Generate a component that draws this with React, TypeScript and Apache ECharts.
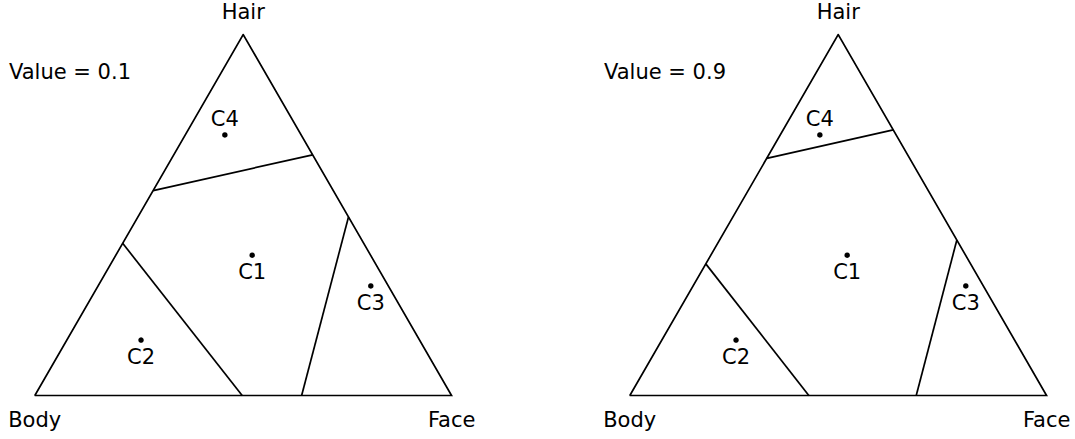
import React, { useEffect, useRef } from "react";
import * as echarts from "echarts";

// Panel parameter values
const panelValues = [0.1, 0.9];
// Vertex labels (ternary corners)
const vertexNames = ["Body", "Face", "Hair"];
// Cluster centres as (body, face, hair) fractions
const clusterNames = ["C1", "C2", "C3", "C4"];
const clusterBody = [0.284, 0.668, 0.042, 0.183];
const clusterFace = [0.327, 0.178, 0.654, 0.095];
const clusterHair = [0.389, 0.154, 0.304, 0.722];
// Boundary segments per panel: [[body, face, hair], [body, face, hair]]
const boundariesLow = [
  [[0.432, 0.0, 0.568], [0.0, 0.333, 0.667]], // C4 | C1
  [[0.578, 0.0, 0.422], [0.502, 0.498, 0.0]], // C2 | C1
  [[0.0, 0.505, 0.495], [0.36, 0.64, 0.0]], // C3 | C1
];
const boundariesHigh = [
  [[0.343, 0.0, 0.657], [0.0, 0.264, 0.736]],
  [[0.635, 0.0, 0.365], [0.57, 0.43, 0.0]],
  [[0.0, 0.569, 0.431], [0.313, 0.687, 0.0]],
];

const H = Math.sqrt(3) / 2;
const FONT = "DejaVu Sans";
const FS = 21;

function toXY(b: number, f: number, h: number): [number, number] {
  const s = b + f + h;
  const ff = f / s;
  const hh = h / s;
  return [ff + hh / 2, hh * H];
}

const labelBase = {
  show: true,
  position: "inside",
  formatter: "{b}",
  color: "#000",
  opacity: 1,
  fontSize: FS,
  fontFamily: FONT,
  textBorderWidth: 0,
  textBorderColor: "transparent",
  textShadowBlur: 0,
};

function panelSeries(idx: number, bounds: number[][][]) {
  const series: any[] = [];
  const corners = [toXY(1, 0, 0), toXY(0, 1, 0), toXY(0, 0, 1)];
  series.push({
    type: "line",
    xAxisIndex: idx,
    yAxisIndex: idx,
    data: [corners[0], corners[1], corners[2], corners[0]],
    symbol: "none",
    lineStyle: { color: "#000", width: 1.7, join: "miter" },
    silent: true,
  });
  bounds.forEach((seg) => {
    series.push({
      type: "line",
      xAxisIndex: idx,
      yAxisIndex: idx,
      data: seg.map((p) => toXY(p[0], p[1], p[2])),
      symbol: "none",
      lineStyle: { color: "#000", width: 1.7 },
      silent: true,
    });
  });
  series.push({
    type: "scatter",
    xAxisIndex: idx,
    yAxisIndex: idx,
    symbolSize: 5.5,
    itemStyle: { color: "#000", opacity: 1 },
    data: clusterNames.map((n, i) => ({
      name: n,
      value: toXY(clusterBody[i], clusterFace[i], clusterHair[i]),
      label: { offset: [0, n === "C4" ? -16 : 17] },
    })),
    label: labelBase,
  });
  series.push({
    type: "scatter",
    xAxisIndex: idx,
    yAxisIndex: idx,
    symbolSize: 0,
    itemStyle: { opacity: 1 },
    data: vertexNames.map((n, i) => ({
      name: n,
      value: corners[i],
      label: { offset: [0, n === "Hair" ? -22.5 : 24] },
    })),
    label: labelBase,
  });
  return series;
}

export default function App() {
  const ref = useRef<HTMLDivElement>(null);
  useEffect(() => {
    document.body.style.margin = "0";
    if (!ref.current) return;
    const chart = echarts.init(ref.current, null, { renderer: "svg" });
    const side = 417;
    const grids = [
      { left: 34.7, top: 395.7 - side * H, width: side, height: side * H },
      { left: 629.7, top: 395.7 - side * H, width: side, height: side * H },
    ];
    const axisBase = { type: "value", show: false, splitLine: { show: false } };
    chart.setOption({
      animation: false,
      backgroundColor: "#fff",
      grid: grids,
      xAxis: [0, 1].map((i) => ({ ...axisBase, gridIndex: i, min: 0, max: 1 })),
      yAxis: [0, 1].map((i) => ({ ...axisBase, gridIndex: i, min: 0, max: H })),
      graphic: panelValues.map((v, i) => ({
        type: "text",
        x: i === 0 ? 9 : 604,
        y: 72,
        style: {
          text: `Value = ${v}`,
          fill: "#000",
          font: `${FS}px '${FONT}'`,
          verticalAlign: "middle",
        },
      })),
      series: [...panelSeries(0, boundariesLow), ...panelSeries(1, boundariesHigh)],
    });
    return () => chart.dispose();
  }, []);
  return <div ref={ref} style={{ width: 1075, height: 439 }} />;
}
